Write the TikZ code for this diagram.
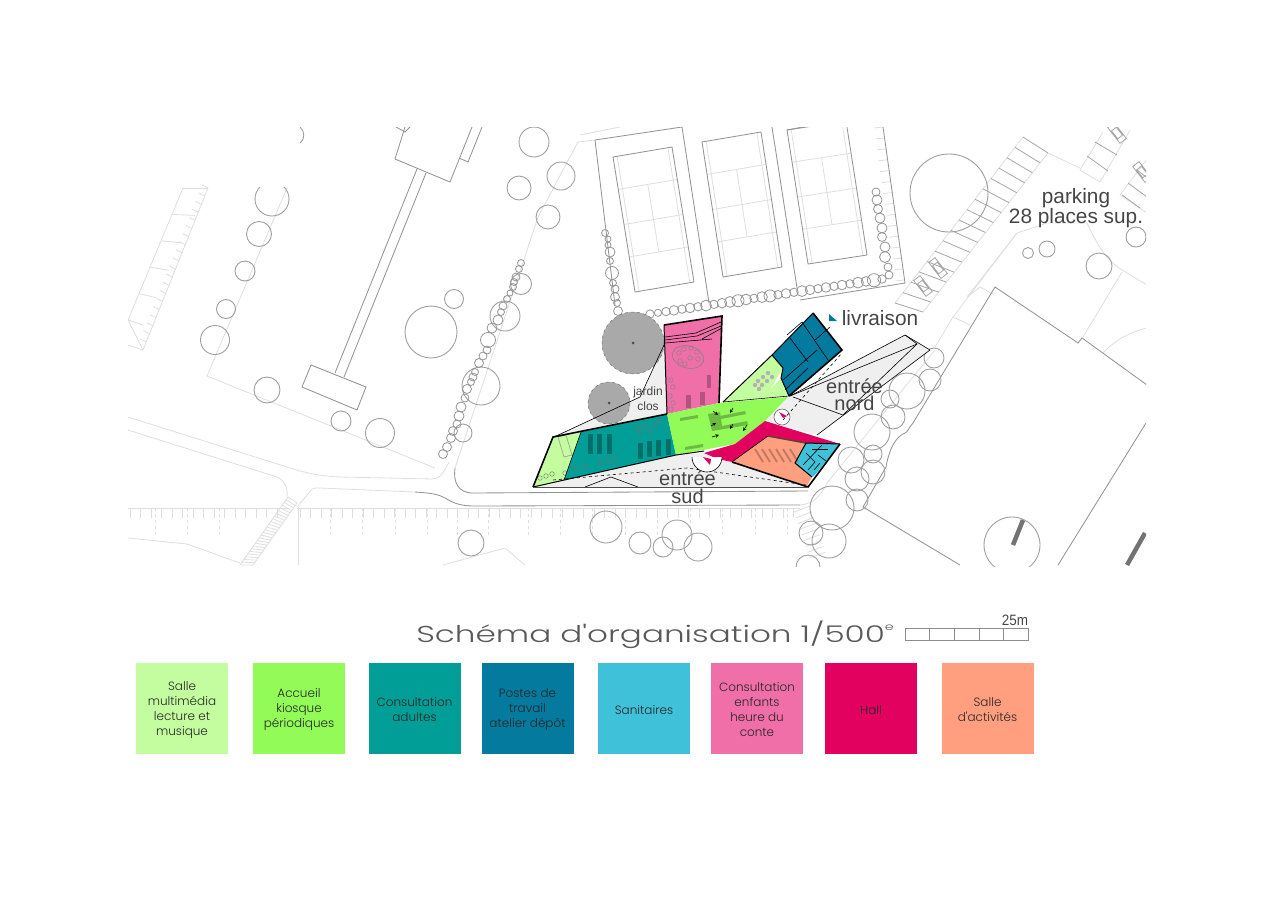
\documentclass[tikz,border=0pt]{standalone}
\usepackage{fontspec}
\setmainfont{Liberation Sans}
\newfontfamily\legendfont{Poppins Light}
\usetikzlibrary{calc}
\definecolor{sallecol}{HTML}{C4FDA0}
\definecolor{accueilcol}{HTML}{92FB58}
\definecolor{adultescol}{HTML}{009E96}
\definecolor{postescol}{HTML}{047A9E}
\definecolor{sanitcol}{HTML}{3EC1D9}
\definecolor{enfantscol}{HTML}{F06FA8}
\definecolor{hallcol}{HTML}{E2015F}
\definecolor{activcol}{HTML}{FF9F80}
\definecolor{plazacol}{HTML}{EFEFEF}
\definecolor{treecol}{HTML}{A9A9A9}
\definecolor{textcol}{HTML}{454545}
\begin{document}
\begin{tikzpicture}[
        x = 1pt,
        y = -1pt,
        line width = 0.6pt,
        darkline/.style = {draw = black!42, line width = 0.85pt},
        siteline/.style = {draw = black!13, line width = 0.8pt},
        stall/.style = {draw = black!35, line width = 0.8pt},
        tree/.style = {draw = black!38, line width = 0.9pt},
        bush/.style = {draw = black!42, line width = 0.8pt},
        wall/.style = {draw = black, line width = 1.6pt},
        midwall/.style = {draw = black, line width = 1pt},
        thinwall/.style = {draw = black, line width = 0.6pt},
        plantext/.style = {text = textcol, inner sep = 0pt, font = \fontsize{20.8}{20}\selectfont},
        legendbox/.style = {minimum width = 92pt, minimum height = 91pt, inner sep = 0pt},
        legendtext/.style = {inner sep = 0pt, align = center, text = black!85, font = \legendfont\fontsize{12}{15}\selectfont}
    ]
        \useasboundingbox (0,0) rectangle (1273,900);
        \begin{scope}
            \clip (128,127) rectangle (1146,566);
            \draw[siteline] (287,188) -- (207,376) -- (435,468);
            \draw[siteline] (580,135) -- (620,127);
            \draw[siteline] (595,140) -- (578,142) -- (571,155) -- (538,217) -- (455,468);
            \draw[darkline] (455,468) .. controls (453,482) and (458,493) .. (473,493) -- (808,491);
            \draw[darkline] (415,492) .. controls (430,493) and (438,494) .. (445,498) .. controls (452,502) and (458,506) .. (475,506) -- (800,505);
            \draw[siteline] (128,417) -- (287,467) .. controls (305,473) and (320,476) .. (340,477) -- (433,479) .. controls (440,479) and (444,472) .. (449,462);
            \draw[siteline] (128,430) -- (277,477) .. controls (285,481) and (288,487) .. (287,497);
            \draw[siteline] (297,507) -- (312,489) .. controls (314,488) and (316,488) .. (320,488) -- (415,492);
            \draw[siteline] (288,497) -- (240,565);
            \draw[siteline] (297,503) -- (253,565);
            \foreach \t in {0,0.04,...,1}
                \draw[siteline] ($(288,497)!\t!(240,565)$) -- ($(297,503)!\t!(253,565)$);
            \draw[siteline] (128,508) -- (288,508);
            \draw[siteline] (297,508) -- (800,508);
            \foreach \x in {130,140.5,...,285}
                \draw[siteline] (\x,508) -- (\x,518);
            \foreach \x in {300,310.5,...,800}
                \draw[siteline] (\x,508) -- (\x,518);
            \foreach \x in {155,187,219,298,330,362,395,427,457,488,528,560,592,625,657,690,722,755,787}
                \draw[siteline, dashed] (\x,508) -- (\x,538);
            \draw[siteline] (128,538) -- (187,544) -- (240,563);
            \draw[siteline] (298,507) -- (298,565);
            \draw[siteline] (443,565) -- (505,548) -- (525,565);
            \draw[siteline] (183,188) -- (128,320) -- (143,350) -- (208,188);
            \draw[siteline] (128,345) -- (143,350);
            \foreach \t in {0,0.2,...,1}
                \draw[siteline] ($(183,188)!\t!(128,320)$) -- ($(208,188)!\t!(143,325)$);
            \foreach \t in {0,0.05,...,1}
                \draw[siteline] ($(208,188)!\t!(143,350)$) -- ++(-6,-3);
            \foreach \t in {0,0.07,...,1}
                \draw[siteline] ($(883,127)!\t!(905,283)$) -- ++(-9,1);
            \foreach \t in {0,0.12,...,1}
                \draw[siteline] ($(794,512)!\t!(810,560)$) -- ++(16,-6);
            \draw[siteline] (1048,153) -- (1080,168);
            \draw[siteline] (1023,137) -- (895,303);
            \draw[siteline] (1048,153) -- (923,312);
            \draw[siteline] (1017,233) -- (953,317) -- (935,347);
            \draw[siteline] (953,317) -- (970,325);
            \draw[siteline] (967,297) -- (980,287) -- (993,294);
            \draw[siteline] (967,297) -- (1017,233) -- (1047,223) -- (1087,223) .. controls (1095,240) and (1105,260) .. (1122,270) -- (1147,285);
            \draw[siteline] (1122,272) -- (1083,337);
            \draw[siteline] (1103,353) .. controls (1115,340) and (1130,332) .. (1147,328);
            \draw[siteline] (1080,170) -- (1103,132);
            \draw[siteline] (1100,182) -- (1130,130);
            \draw[siteline] (1080,170) -- (1100,182);
            \draw[siteline] (1150,155) -- (1120,195) -- (1150,215);
            \draw[siteline] (827,483) -- (935,350);
            \draw[siteline] (800,505) .. controls (815,504) and (822,493) .. (827,483);
            \foreach \t in {0,0.0625,...,1}
                \draw[stall] ($(1023,137)!\t!(895,303)$) -- ($(1048,153)!\t!(923,312)$);
            \draw[stall] (1087,156) -- (1108,171);
            \draw[stall] (1095,142) -- (1117,155);
            \draw[stall] (1122,195) -- (1140,208);
            \draw[stall] (1128,183) -- (1147,197);
            \draw[stall] (1137,170) -- (1150,180);
            \foreach \x/\y/\a in {938/268/-52, 923/286/-52, 1117/133/-52, 1142/172/-52}
                \draw[stall, rotate around = {\a:(\x,\y)}] (\x-10,\y-4) rectangle (\x+10,\y+4) (\x-5,\y-3) rectangle (\x+5,\y+3);
            \draw[darkline] (395,159) -- (450,182) -- (472,127);
            \draw[darkline] (405,127) -- (395,159);
            \draw[darkline] (396,127) -- (405,132) -- (410,127);
            \draw[darkline] (459,158) -- (468,162) -- (482,127);
            \draw[darkline] (417,169) -- (335,373);
            \draw[darkline] (426,173) -- (344,377);
            \draw[darkline] (311,365) -- (366,387) -- (357,410) -- (302,387) -- cycle;
            \draw[darkline] (595,140) -- (682,127) -- (709,303);
            \draw[darkline] (595,140) -- (615,305);
            \draw[darkline] (772,127) -- (797,288);
            \draw[darkline] (787,130) -- (803,127);
            \draw[darkline] (883,127) -- (905,283) -- (800,300);
            \foreach \ax/\ay/\bx/\by/\cx/\cy/\dx/\dy in {613/157/672/147/694/282/635/292, 702/142/761/132/782/267/723/277, 787/130/846/121/867/255/808/264} {
                \draw[siteline] ($(\ax,\ay)!0.07!(\bx,\by)$) -- ($(\dx,\dy)!0.07!(\cx,\cy)$);
                \draw[siteline] ($(\ax,\ay)!0.93!(\bx,\by)$) -- ($(\dx,\dy)!0.93!(\cx,\cy)$);
                \draw[siteline] ($(\ax,\ay)!0.24!(\dx,\dy)$) -- ($(\bx,\by)!0.24!(\cx,\cy)$);
                \draw[siteline] ($(\ax,\ay)!0.5!(\dx,\dy)$) -- ($(\bx,\by)!0.5!(\cx,\cy)$);
                \draw[siteline] ($(\ax,\ay)!0.74!(\dx,\dy)$) -- ($(\bx,\by)!0.74!(\cx,\cy)$);
                \coordinate (courthaut) at ($(\ax,\ay)!0.5!(\bx,\by)$);
                \coordinate (courtbas) at ($(\dx,\dy)!0.5!(\cx,\cy)$);
                \draw[siteline] ($(courthaut)!0.24!(courtbas)$) -- ($(courthaut)!0.74!(courtbas)$);
                \draw[darkline] (\ax,\ay) -- (\bx,\by) -- (\cx,\cy) -- (\dx,\dy) -- cycle;
            }
            \draw[darkline] (913,423) .. controls (909,427) and (908,432) .. (905,433) .. controls (895,437) and (889,450) .. (886,467) -- (863,507) -- (960,565);
            \draw[darkline] (913,423) -- (995,287) -- (1078,343) -- (1082,338) -- (1147,385);
            \draw[darkline] (1146,423) -- (1058,565);
            \draw[draw = black!55, line width = 4.5pt] (1023,520) -- (1013,545);
            \draw[draw = black!55, line width = 4.5pt] (1145,533) -- (1127,565);
            \foreach \x/\y/\r in {259/234/12.5, 245/271/10, 226/309/9.5, 215/340/14.5, 267/390/13, 341/421/10, 380/433/14.5, 431/332/26, 454/299/9.5, 519/188/12, 534/142/15, 505/316/15, 521/284/10.5, 481/386/19, 463/433/9, 471/543/13, 548/217/12, 561/176/14, 606/527/16, 640/543/11, 663/547/10, 677/535/15, 698/547/14, 949/193/39, 1028/253/5.5, 1047/249/8, 1099/266/13, 1136/237/10, 1012/545/28, 934/358/10, 930/380/11, 907/391/18, 890/399/9, 893/417/12, 872/432/18, 851/460/13, 873/454/9, 873/472/12, 857/479/12, 857/500/11, 832/508/22, 811/533/12, 829/541/17, 808/567/12}
                \draw[tree] (\x,\y) circle (\r);
            \begin{scope}
                \clip (240,187) rectangle (300,230);
                \draw[tree] (272,199) circle (17);
            \end{scope}
            \draw[tree] (300,127) .. controls (305,131) and (305,140) .. (300,143);
            \foreach \x/\y/\r in {521/263/3.5, 519/269/3.5, 516/277/4, 514/282/3.5, 513/287/3.5, 510/293/3, 507/299/3.5, 503/306/4, 501/312/3.5, 498/320/5, 492/328/5, 488/340/7.5, 487/350/4, 483/356/4, 479/363/4.5, 475/372/3.5, 473/377/4, 471/382/3.5, 467/389/4.5, 465/398/4, 461/407/5, 459/416/5, 457/424/4, 453/431/4.5, 451/438/4.5, 447/447/4.5, 443/454/4.5, 605/233/3.5, 608/239/3, 608/245/3, 610/252/5, 610/261/3.5, 612/273/6.5, 613/283/3.5, 615/289/4, 615/297/4.5, 617/303/3.5, 618/311/4.5, 876/192/4, 877/200/5, 878/209/4.5, 880/218/5, 882/228/5, 882/237/4.5, 885/247/5, 885/257/5.5, 888/267/4, 889/275/4}
                \draw[bush] (\x,\y) circle (\r);
            \foreach \i/\r in {0/3.5, 1/3, 2/3.5, 3/4, 4/3.5, 5/4, 6/3.5, 7/4.5, 8/3.5, 9/4, 10/4.5, 11/5, 12/4.5, 13/3.5, 14/4.5, 15/5, 16/3.5, 17/4, 18/3.5, 19/4.5, 20/4, 21/3.5, 22/4, 23/3.5, 24/4, 25/3.5, 26/4.5, 27/4, 28/5.5, 29/3.5}
                \draw[bush] ($(650,314)!\i/29!(882,279)$) circle (\r*1.2);
        \end{scope}
        \fill[plazacol] (533,487) -- (564,480) -- (676,455) -- (704,453) -- (718,459) -- (732,462) -- (808,487) -- cycle;
        \fill[plazacol] (790,396) -- (905,335) -- (930,350) -- (817,435) -- (765,421) -- cycle;
        \fill[plazacol] (664,345) -- (640,397) -- (554,437) -- (581,432) -- (667,414) -- cycle;
        \draw[draw = black!60, fill = white] (782,417) circle (8);
        \fill[treecol] (633,343) circle (31);
        \fill[treecol] (609,403) circle (21);
        \draw[draw = black!55, dashed, line width = 0.5pt] (633,343) circle (31) (609,403) circle (21);
        \fill[black!70] (633,343) circle (1.5) (609,403) circle (1.5);
        \fill[enfantscol] (664,325) -- (722,316) -- (719,403) -- (667,414) -- cycle;
        \fill[sallecol] (533,487) -- (553,437) -- (581,432) -- (564,480) -- cycle;
        \fill[adultescol] (581,432) -- (667,414) -- (676,455) -- (564,480) -- cycle;
        \fill[accueilcol] (667,414) -- (719,403) -- (788,397) -- (765,421) -- (735,444) -- (676,455) -- cycle;
        \fill[sallecol] (723,402) -- (772,355) -- (783,368) -- (770,390) -- (781,378) -- (789,396) -- cycle;
        \fill[postescol] (772,355) -- (813,313) -- (842,350) -- (789,396) -- (781,378) -- (783,368) -- cycle;
        \fill[hallcol] (704,453) -- (735,444) -- (765,421) -- (840,444) -- (806,443) -- (768,436) -- (732,462) -- (718,459) -- cycle;
        \fill[activcol] (732,462) -- (768,436) -- (806,443) -- (795,463) -- (812,477) -- (807,486) -- cycle;
        \fill[sanitcol] (806,443) -- (840,444) -- (815,475) -- (812,477) -- (795,463) -- cycle;
        \fill[enfantscol!75!black] (707,375) rectangle (711,388);
        \foreach \x/\y in {686/395, 700/392}
            \fill[enfantscol!75!black] (\x,\y) rectangle (\x+5,\y+13);
        \foreach \x in {588,597,607}
            \fill[adultescol!70!black] (\x,434) rectangle (\x+5,454);
        \foreach \x/\y in {638/443, 647/441, 656/440, 666/439}
            \fill[adultescol!70!black] (\x,\y) rectangle (\x+5,\y+16);
        \fill[accueilcol!75!black] (680,418) -- (698,415) -- (698,418) -- (680,421) -- cycle;
        \fill[accueilcol!75!black] (685,447) -- (703,444) -- (703,447) -- (685,450) -- cycle;
        \fill[accueilcol!75!black] (708,414) -- (720,412) -- (722,426) -- (747,421) -- (748,425) -- (712,431) -- cycle;
        \fill[accueilcol!75!black] (720,416) -- (745,411) -- (746,414) -- (721,419) -- cycle;
        \foreach \x in {755,762,...,790}
            \draw[draw = activcol!75!black, line width = 1.8pt] (\x,449) -- (\x+8,462);
        \foreach \x/\y in {758/381, 763/377, 768/373, 762/385, 767/381, 772/377, 755/385, 759/389}
            \fill[black!30] (\x,\y) circle (2.2);
        \draw[draw = black!40] (562,448) ++(-4,-11) -- ++(8,-2) -- ++(6,20) -- ++(-8,2) -- cycle;
        \foreach \x/\y in {637/428, 645/426, 655/425, 660/421, 640/432, 650/431, 575/468, 585/466, 600/463, 608/461, 615/460, 540/478, 546/476, 552/474, 565/473}
            \draw[draw = black!55, line width = 0.4pt] (\x,\y) circle (2.3);
        \draw[draw = black!50, rotate around = {-15:(688,357)}] (688,357) ellipse (16 and 11);
        \foreach \x/\y in {679/353, 684/349, 691/348, 697/352, 698/359, 690/358, 680/361, 685/364, 671/380, 673/387, 670/396, 673/403, 671/409}
            \draw[draw = black!50, line width = 0.4pt] (\x,\y) circle (2.3);
        \draw[thinwall] (665,337) -- (696,333) -- (721,322);
        \draw[thinwall] (665,340) -- (697,336) -- (721,326);
        \draw[thinwall] (665,343) -- (712,339) (702,339) -- (722,328);
        \draw[thinwall] (802,322) -- (828,360);
        \draw[thinwall] (815,340) -- (830,327);
        \draw[thinwall] (790,338) -- (808,362);
        \draw[thinwall] (783,380) -- (817,350);
        \draw[thinwall] (785,390) -- (808,368);
        \draw[thinwall] (802,322) -- (787,335);
        \draw[thinwall] (803,465) -- (822,445);
        \draw[thinwall] (808,470) -- (815,462) -- (806,453);
        \draw[thinwall] (818,455) -- (826,461);
        \draw[thinwall] (812,449) -- (828,449);
        \draw[thinwall] (820,463) -- (814,470);
        \foreach \x/\y/\dx/\dy in {713/411/5/4, 733/408/-3/5, 711/426/5/-3, 712/437/7/-2, 747/425/-4/6, 733/424/-3/5}
            \draw[thinwall, -stealth] (\x,\y) -- ++(\dx,\dy);
        \draw[thinwall] (611,477) -- (638,487) (585,487) -- (611,477);
        \draw[thinwall, dashed] (553,480) -- (687,468) -- (806,485);
        \draw[thinwall, dashed] (783,420) -- (842,353);
        \draw[thinwall] (790,396) -- (917,344) -- (905,335);
        \draw[thinwall] (917,344) -- (843,415) -- (793,397);
        \draw[thinwall] (930,350) -- (817,435);
        \draw[thinwall] (790,396) -- (905,335) -- (930,350);
        \draw[thinwall] (664,345) -- (640,397) -- (554,437);
        \draw[thinwall, fill = white] (692,457) arc (180:0:15);
        \draw[wall] (533,487) -- (553,437) -- (667,414);
        \draw[thinwall] (581,432) -- (564,480);
        \draw[midwall] (533,487) -- (676,455) -- (704,451);
        \draw[wall] (840,444) -- (808,487) -- (732,462);
        \draw[draw = black!70] (533,487) -- (808,487);
        \draw[wall] (664,325) -- (722,316) -- (719,403);
        \draw[midwall] (664,325) -- (667,414);
        \draw[midwall] (723,402) -- (772,355) -- (813,313);
        \draw[wall] (813,313) -- (842,350) -- (789,396);
        \draw[midwall] (789,396) -- (781,378) -- (783,368) -- (772,355);
        \draw[thinwall] (723,402) -- (789,396);
        \draw[thinwall] (732,462) -- (768,436);
        \draw[draw = black!60!activcol, line width = 1.6pt] (768,436) -- (806,443);
        \draw[midwall] (806,443) -- (795,463) -- (812,477);
        \draw[midwall] (806,443) -- (840,444);
        \fill[hallcol] (703,457) -- (711,459) -- (710,465) -- cycle;
        \fill[hallcol] (779,412) -- (787,416) -- (783,418) -- cycle;
        \fill[postescol] (829,314) -- (837,321) -- (829,321) -- cycle;
        \node[text = textcol, font = \fontsize{12}{15}\selectfont, align = center, inner sep = 0pt] (jardin) at (648,399) {jardin\\clos};
        \node[plantext, align = center, font = \fontsize{20}{18}\selectfont] (sudlabel) at (687.5,487.5) {entrée\\sud};
        \node[plantext, align = center, font = \fontsize{20}{17}\selectfont] (nordlabel) at (854.5,394.5) {entrée\\nord};
        \node[plantext] (livraison) at (880,318) {livraison};
        \node[plantext] (parking) at (1076,198) {parking};
        \node[plantext] (places) at (1076,218) {28 places sup.};
        \node[text = black!65, inner sep = 0pt, xscale = 1.42, font = \legendfont\fontsize{23}{25}\selectfont] (titre) at (655,635) {Schéma d'organisation 1/500\raisebox{1ex}{\fontsize{10}{12}\selectfont e}};
        \draw[draw = black!45] (905,628) rectangle (1028,640);
        \foreach \x in {929.6,954.2,978.8,1003.4}
            \draw[draw = black!45] (\x,628) -- (\x,640);
        \node[text = textcol, inner sep = 0pt, font = \fontsize{15}{16}\selectfont, xscale = 0.9] (echelle) at (1015,620) {25m};
        \foreach \nom/\x/\col/\txt in {salle/182/sallecol/{Salle\\multimédia\\lecture et\\musique}, accueil/299/accueilcol/{Accueil\\kiosque\\périodiques}, adultes/414.5/adultescol/{Consultation\\adultes}, postes/527.5/postescol/{Postes de\\travail\\atelier dépôt}, sanit/644/sanitcol/{Sanitaires}, enfants/757/enfantscol/{Consultation\\enfants\\heure du\\conte}, hall/871/hallcol/{Hall}, activ/987.5/activcol/{Salle\\d'activités}} {
            \node[legendbox, fill = \col] (\nom) at (\x,708.5) {};
            \node[legendtext] (\nom texte) at (\x,710) {\txt};
        }
    \end{tikzpicture}
\end{document}
